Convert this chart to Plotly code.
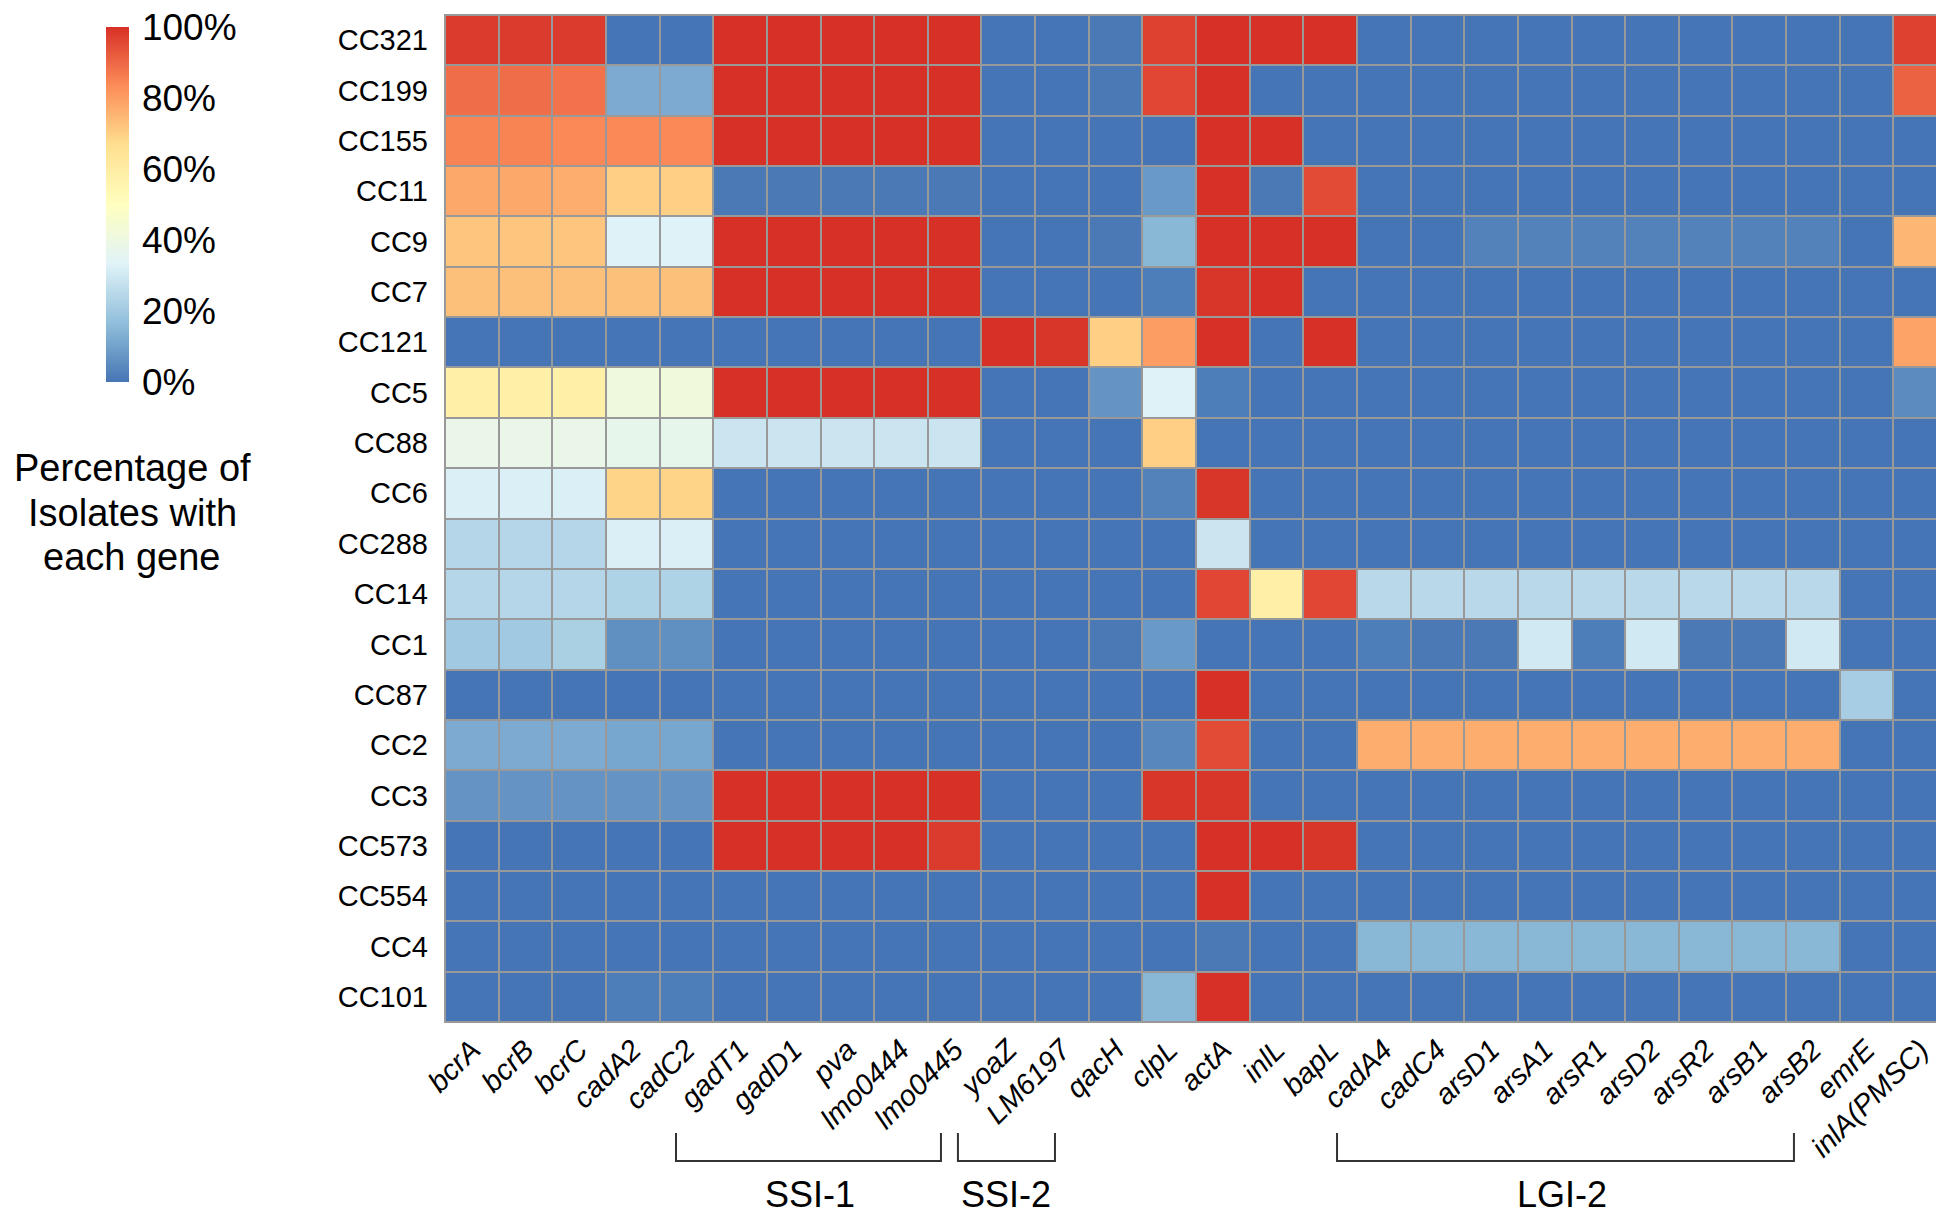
import plotly.graph_objects as go

genes = ["bcrA", "bcrB", "bcrC", "cadA2", "cadC2", "gadT1", "gadD1", "pva", "lmo0444", "lmo0445",
         "yoaZ", "LM6197", "qacH", "clpL", "actA", "inlL", "bapL", "cadA4", "cadC4", "arsD1",
         "arsA1", "arsR1", "arsD2", "arsR2", "arsB1", "arsB2", "emrE", "inlA(PMSC)"]
ccs = ["CC321", "CC199", "CC155", "CC11", "CC9", "CC7", "CC121", "CC5", "CC88", "CC6",
       "CC288", "CC14", "CC1", "CC87", "CC2", "CC3", "CC573", "CC554", "CC4", "CC101"]

# percentage of isolates carrying each gene (rows = ccs, columns = genes)
cc321 = [98, 98, 98, 0, 0, 100, 100, 100, 100, 100, 0, 0, 1, 97, 100, 100, 100, 0, 0, 0, 0, 0, 0, 0, 0, 0, 0, 97]
cc199 = [89, 89, 88, 12, 12, 100, 100, 100, 100, 100, 0, 0, 1, 96, 100, 0, 0, 0, 0, 0, 0, 0, 0, 0, 0, 0, 0, 91]
cc155 = [85, 85, 84, 84, 84, 100, 100, 100, 100, 100, 0, 0, 0, 0, 100, 100, 0, 0, 0, 0, 0, 0, 0, 0, 0, 0, 0, 0]
cc11 = [78, 78, 77, 70, 70, 1, 1, 1, 1, 1, 0, 0, 0, 8, 100, 1, 95, 0, 0, 0, 0, 0, 0, 0, 0, 0, 0, 0]
cc9 = [72, 72, 72, 33, 33, 100, 100, 100, 100, 100, 0, 0, 1, 15, 100, 100, 100, 0, 0, 3, 3, 3, 3, 3, 3, 3, 0, 75]
cc7 = [73, 73, 73, 73, 73, 100, 100, 100, 100, 100, 0, 0, 0, 2, 99, 100, 0, 0, 0, 0, 0, 0, 0, 0, 0, 0, 0, 0]
cc121 = [0, 0, 0, 0, 0, 0, 0, 0, 0, 0, 100, 99, 70, 80, 100, 0, 100, 0, 0, 0, 0, 0, 0, 0, 0, 0, 0, 79]
cc5 = [58, 58, 58, 41, 42, 100, 100, 100, 100, 100, 0, 0, 7, 33, 2, 0, 0, 0, 0, 0, 0, 0, 0, 0, 0, 0, 0, 5]
cc88 = [38, 38, 38, 37, 37, 29, 29, 29, 29, 29, 0, 0, 0, 70, 0, 0, 0, 0, 0, 0, 0, 0, 0, 0, 0, 0, 0, 0]
cc6 = [32, 32, 32, 69, 69, 0, 0, 0, 0, 0, 0, 0, 0, 3, 99, 0, 0, 0, 0, 0, 0, 0, 0, 0, 0, 0, 0, 0]
cc288 = [24, 24, 24, 32, 32, 0, 0, 0, 0, 0, 0, 0, 0, 0, 29, 0, 0, 0, 0, 0, 0, 0, 0, 0, 0, 0, 0, 0]
cc14 = [24, 24, 24, 23, 23, 0, 0, 0, 0, 0, 0, 0, 0, 0, 96, 58, 96, 25, 25, 25, 25, 25, 25, 25, 25, 25, 0, 0]
cc1 = [20, 20, 22, 6, 6, 0, 0, 0, 0, 0, 0, 0, 1, 8, 0, 0, 0, 2, 1, 1, 30, 2, 30, 1, 1, 30, 0, 0]
cc87 = [0, 0, 0, 0, 0, 0, 0, 0, 0, 0, 0, 0, 0, 0, 100, 0, 0, 0, 0, 0, 0, 0, 0, 0, 0, 0, 21, 0]
cc2 = [12, 12, 12, 11, 11, 0, 0, 0, 0, 0, 0, 0, 0, 4, 95, 0, 0, 77, 77, 77, 77, 77, 77, 77, 77, 77, 0, 0]
cc3 = [7, 7, 7, 7, 7, 100, 100, 100, 100, 100, 0, 0, 0, 99, 99, 0, 0, 0, 0, 0, 0, 0, 0, 0, 0, 0, 0, 0]
cc573 = [0, 0, 0, 0, 0, 100, 100, 100, 100, 98, 0, 0, 0, 0, 100, 100, 99, 0, 0, 0, 0, 0, 0, 0, 0, 0, 0, 0]
cc554 = [0, 0, 0, 0, 0, 0, 0, 0, 0, 0, 0, 0, 0, 0, 100, 0, 0, 0, 0, 0, 0, 0, 0, 0, 0, 0, 0, 0]
cc4 = [0, 0, 0, 0, 0, 0, 0, 0, 0, 0, 0, 0, 0, 0, 1, 0, 0, 15, 15, 15, 15, 15, 15, 15, 15, 15, 0, 0]
cc101 = [0, 0, 0, 2, 2, 0, 0, 0, 0, 0, 0, 0, 0, 15, 100, 0, 0, 0, 0, 0, 0, 0, 0, 0, 0, 0, 0, 0]

z = [cc321, cc199, cc155, cc11, cc9, cc7, cc121, cc5, cc88, cc6,
     cc288, cc14, cc1, cc87, cc2, cc3, cc573, cc554, cc4, cc101]

cbar_vals = [0, 20, 40, 60, 80, 100]
cbar_text = ["0%", "20%", "40%", "60%", "80%", "100%"]

# gene groups: (label, bracket left, bracket right, label centre) in paper x
groups = [("SSI-1", 0.1538, 0.3302, 0.2430),
          ("SSI-2", 0.3415, 0.4061, 0.3735),
          ("LGI-2", 0.5939, 0.8981, 0.7437)]

legend_title = ["Percentage of", "Isolates with", "each gene"]

palette = ["#4575B4", "#91BFDB", "#E0F3F8", "#FFFFBF", "#FEE090", "#FC8D59", "#D73027"]
colorscale = [[i / (len(palette) - 1), c] for i, c in enumerate(palette)]

FONT = "Liberation Sans, Arial, sans-serif"
W, H = 1944, 1213
L, R, T, B = 437, 5, 7, 199
PW, PH = W - L - R, H - T - B

def px_x(px):
    return (px - L) / PW

def px_y(py):
    return (H - B - py) / PH

fig = go.Figure(go.Heatmap(
    z=z, x=genes, y=ccs, zmin=0, zmax=100, colorscale=colorscale,
    xgap=2, ygap=2,
    colorbar=dict(
        x=px_x(98), xanchor="left", xpad=0,
        y=px_y(19), yanchor="top", ypad=0,
        thickness=23, lenmode="pixels", len=355,
        outlinewidth=0,
        tickvals=cbar_vals, ticktext=cbar_text,
        ticks="outside", ticklen=6, tickcolor="rgba(0,0,0,0)",
        ticklabeloverflow="allow",
        tickfont=dict(size=37, color="black", family=FONT),
    ),
))

shapes = [dict(type="rect", xref="paper", yref="paper", x0=0, x1=1, y0=0, y1=1,
               line=dict(color="#999999", width=2), fillcolor="rgba(0,0,0,0)")]
annotations = []
yb_top, yb_bot, y_lab = px_y(1125), px_y(1153), px_y(1208)
for name, x0, x1, xc in groups:
    shapes.append(dict(type="path", xref="paper", yref="paper",
                       path=f"M {x0},{yb_top} L {x0},{yb_bot} L {x1},{yb_bot} L {x1},{yb_top}",
                       line=dict(color="#333333", width=2)))
    annotations.append(dict(text=name, xref="paper", yref="paper", x=xc, y=y_lab,
                            xanchor="center", yanchor="bottom", showarrow=False,
                            borderpad=0,
                            font=dict(size=36, color="black", family=FONT)))

for i, line in enumerate(legend_title):
    annotations.append(dict(text=line, xref="paper", yref="paper", x=px_x(124),
                            y=px_y(460 + 44.5 * i), xanchor="center", yanchor="middle",
                            showarrow=False, font=dict(size=38, color="black", family=FONT)))

fig.update_layout(
    width=W, height=H,
    margin=dict(l=L, r=R, t=T, b=B, pad=0),
    paper_bgcolor="white", plot_bgcolor="#999999",
    font=dict(family=FONT, color="black"),
    xaxis=dict(tickangle=-45, tickfont=dict(size=29, style="italic", family=FONT),
               showgrid=False, zeroline=False, ticks="", showline=False,
               ticklabelstandoff=4),
    yaxis=dict(autorange="reversed", tickfont=dict(size=29, family=FONT),
               showgrid=False, zeroline=False, ticks="", showline=False,
               ticklabelstandoff=16),
    shapes=shapes, annotations=annotations,
)

fig.write_html("out.html")
